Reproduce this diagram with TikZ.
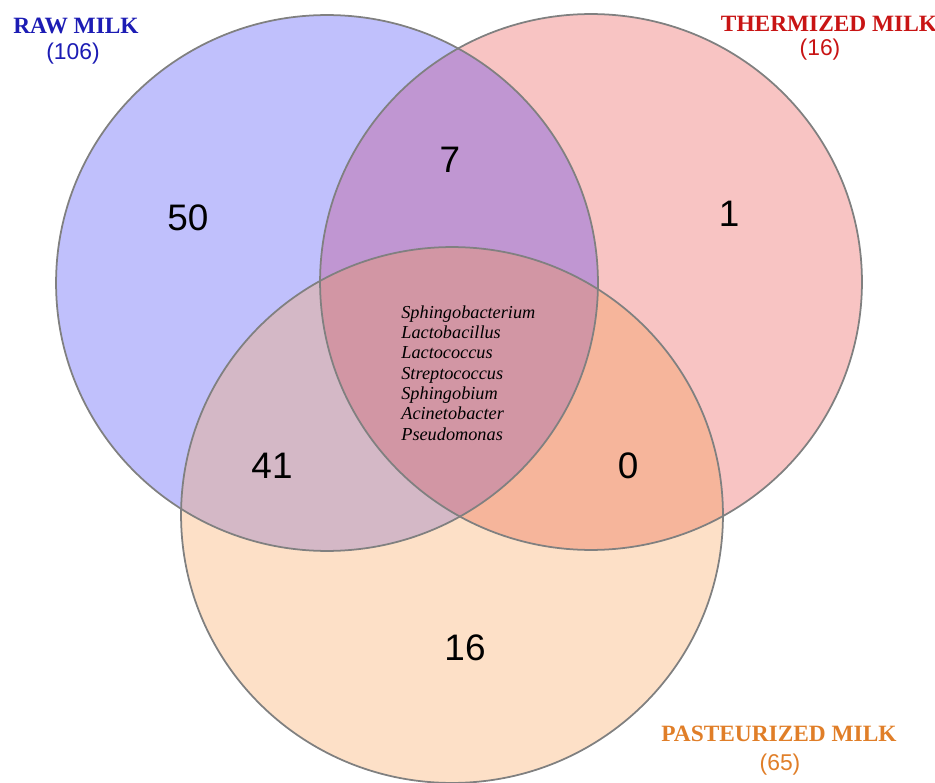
\documentclass[tikz,border=0pt]{standalone}
\usepackage{fontspec}
\setmainfont{Liberation Serif}
\newfontfamily\numfont{Liberation Sans}
\usepackage{tikz}
\usetikzlibrary{positioning}
\usepackage{xcolor}
\definecolor{rawfill}{HTML}{C0C0FC}
\definecolor{thermfill}{HTML}{F8C4C3}
\definecolor{pastfill}{HTML}{FDE0C7}
\definecolor{rawthermfill}{HTML}{C096D2}
\definecolor{rawpastfill}{HTML}{D4B8C6}
\definecolor{thermpastfill}{HTML}{F6B59B}
\definecolor{corefill}{HTML}{D296A4}
\definecolor{rawblue}{HTML}{1C1CB4}
\definecolor{thermred}{HTML}{C81414}
\definecolor{pastorange}{HTML}{E07E28}
\definecolor{ringgray}{HTML}{808080}
\newcommand{\rawpath}{(327,283) ellipse [x radius=5.42cm, y radius=5.36cm]}
\newcommand{\thermpath}{(591,282) ellipse [x radius=5.42cm, y radius=5.36cm]}
\newcommand{\pastpath}{(452,515) ellipse [x radius=5.42cm, y radius=5.36cm]}
\tikzset{
  ring/.style={
    draw=ringgray,
    line width=1pt
  },
  setname/.style={
    font=\fontsize{13.3}{14}\selectfont\bfseries,
    inner sep=0pt
  },
  setsize/.style={
    font=\fontsize{13}{14}\selectfont\numfont,
    inner sep=0pt
  },
  count/.style={
    font=\fontsize{21}{23}\selectfont\numfont,
    inner sep=0pt
  },
  genera/.style={
    font=\fontsize{10.4}{11.6}\selectfont\itshape,
    align=left,
    inner sep=0pt
  }
}

\begin{document}
\begin{tikzpicture}[x=0.02cm, y=-0.02cm]
\useasboundingbox (0,0) rectangle (935,783);
% single sets
\fill[rawfill] \rawpath;
\fill[thermfill] \thermpath;
\fill[pastfill] \pastpath;
% pairwise overlaps
\begin{scope}
  \clip \rawpath;
  \fill[rawthermfill] \thermpath;
  \fill[rawpastfill] \pastpath;
\end{scope}
\begin{scope}
  \clip \thermpath;
  \fill[thermpastfill] \pastpath;
\end{scope}
% core
\begin{scope}
  \clip \rawpath;
  \clip \thermpath;
  \fill[corefill] \pastpath;
\end{scope}
\draw[ring] \rawpath;
\draw[ring] \thermpath;
\draw[ring] \pastpath;

\node[setname, text=rawblue] (raw) at (76,26) {RAW MILK};
\node[setsize, text=rawblue] (rawn) at (73,54) {(106)};
\node[setname, text=thermred] (therm) at (829,24) {THERMIZED MILK};
\node[setsize, text=thermred] (thermn) at (820,50) {(16)};
\node[setname, text=pastorange] (past) at (779,734) {PASTEURIZED MILK};
\node[setsize, text=pastorange] (pastn) at (780,765) {(65)};

\node[count] (rawonly) at (188,218) {50};
\node[count] (rawtherm) at (450,160) {7};
\node[count] (thermonly) at (729,214) {1};
\node[count] (rawpast) at (272,466) {41};
\node[count] (thermpast) at (628,466) {0};
\node[count] (pastonly) at (465,648) {16};
\node[genera, anchor=west] (core) at (401,373) {Sphingobacterium\\Lactobacillus\\Lactococcus\\Streptococcus\\Sphingobium\\Acinetobacter\\Pseudomonas};
\end{tikzpicture}
\end{document}
